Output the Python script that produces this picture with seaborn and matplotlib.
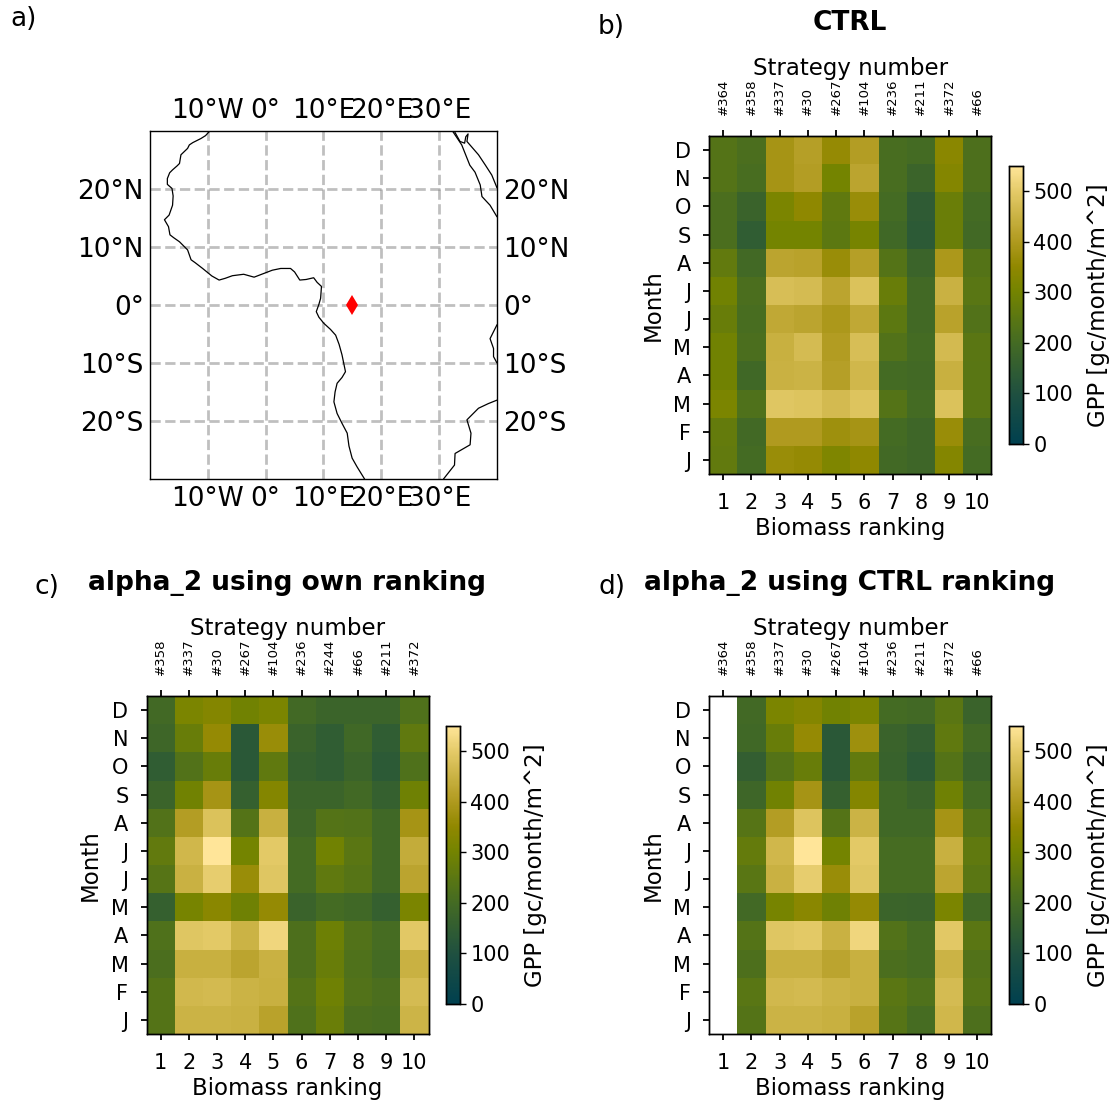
import numpy as np
import matplotlib
matplotlib.use("Agg")
import matplotlib.pyplot as plt
from matplotlib.colors import LinearSegmentedColormap
import seaborn as sns

sns.set_theme(style="white", rc={"axes.edgecolor": "black", "xtick.bottom": True, "ytick.left": True,
                                 "text.color": "black", "axes.labelcolor": "black",
                                 "xtick.color": "black", "ytick.color": "black"})
plt.rcParams['font.family'] = ['DejaVu Sans']

months = ['D', 'N', 'O', 'S', 'A', 'J', 'J', 'M', 'A', 'M', 'F', 'J']
ranks = [str(i) for i in range(1, 11)]

ctrl_strategies = ['#364', '#358', '#337', '#30', '#267', '#104', '#236', '#211', '#372', '#66']
own_strategies = ['#358', '#337', '#30', '#267', '#104', '#236', '#244', '#66', '#211', '#372']

ctrl_gpp = [
    [235, 215, 385, 412, 358, 408, 210, 200, 340, 220],
    [235, 210, 385, 408, 302, 422, 210, 178, 330, 220],
    [215, 172, 315, 350, 258, 365, 200, 142, 281, 200],
    [215, 148, 302, 302, 253, 308, 190, 136, 281, 195],
    [263, 195, 422, 418, 365, 412, 235, 178, 395, 235],
    [296, 215, 475, 470, 422, 482, 275, 195, 448, 245],
    [275, 210, 430, 422, 395, 430, 253, 195, 418, 230],
    [296, 215, 445, 470, 405, 475, 230, 200, 467, 248],
    [296, 190, 448, 452, 412, 460, 200, 195, 445, 245],
    [315, 225, 490, 486, 467, 486, 235, 200, 482, 245],
    [268, 195, 400, 400, 372, 385, 200, 184, 365, 210],
    [263, 200, 365, 358, 322, 350, 195, 184, 330, 200],
]
own_gpp = [
    [195, 315, 330, 296, 315, 195, 178, 178, 178, 225],
    [184, 275, 358, 130, 365, 172, 148, 190, 148, 258],
    [148, 230, 275, 130, 258, 160, 148, 178, 136, 225],
    [178, 296, 385, 160, 330, 178, 178, 195, 160, 291],
    [230, 408, 482, 235, 445, 184, 235, 230, 190, 385],
    [263, 460, 548, 302, 498, 200, 296, 248, 190, 438],
    [240, 448, 505, 365, 490, 200, 258, 240, 190, 422],
    [160, 308, 340, 291, 358, 172, 200, 190, 160, 315],
    [225, 490, 498, 452, 522, 220, 286, 230, 205, 495],
    [215, 445, 445, 422, 448, 220, 275, 225, 200, 448],
    [235, 463, 467, 452, 445, 235, 291, 230, 215, 470],
    [235, 452, 452, 448, 418, 225, 281, 215, 210, 455],
]
alpha_ctrl_gpp = [
    [np.nan, 195, 315, 330, 296, 315, 200, 195, 248, 172],
    [np.nan, 190, 275, 358, 130, 372, 172, 154, 258, 195],
    [np.nan, 154, 235, 275, 130, 263, 168, 136, 235, 172],
    [np.nan, 184, 296, 385, 160, 330, 190, 172, 291, 200],
    [np.nan, 240, 408, 486, 235, 452, 190, 190, 385, 235],
    [np.nan, 268, 460, 548, 302, 498, 205, 205, 445, 258],
    [np.nan, 245, 448, 505, 365, 490, 205, 205, 425, 248],
    [np.nan, 195, 308, 340, 291, 358, 178, 172, 315, 195],
    [np.nan, 235, 490, 498, 448, 522, 230, 205, 495, 248],
    [np.nan, 220, 445, 445, 422, 445, 215, 205, 452, 230],
    [np.nan, 245, 463, 467, 452, 445, 248, 225, 470, 240],
    [np.nan, 235, 452, 452, 445, 418, 240, 205, 460, 220],
]

# coastlines, lon then lat
west_coast_lon = [-9.66, -10.4, -11.2, -12.6, -13.2, -13.5, -14.65, -14.9, -15.3, -16.1, -16.6, -17.0, -17.0, -16.2,
                  -16.0, -16.1, -16.7, -17.5, -16.8, -16.55, -15.9, -14.9, -13.5, -12.9, -12.2, -10.9, -9.3, -8.05,
                  -7.0, -5.75, -3.8, -2.0, 1.15, 2.6, 4.3, 5.0, 5.9, 7.0, 8.3, 8.9, 9.65, 9.5, 9.2, 8.75, 9.2,
                  10.05, 11.2, 12.1, 12.7, 13.2, 13.8, 13.2, 12.35, 12.0, 11.8, 12.35, 13.2, 14.1, 14.4, 14.95,
                  15.8, 17.1]
west_coast_lat = [30, 29.2, 28.7, 28.0, 27.6, 27.0, 25.9, 24.4, 24.0, 23.3, 22.8, 21.8, 20.8, 20.1,
                  18.8, 17.2, 15.5, 14.7, 13.5, 12.1, 11.6, 10.9, 9.5, 7.8, 7.3, 6.3, 5.0, 4.3,
                  4.6, 5.05, 5.3, 4.8, 6.0, 6.3, 6.3, 5.7, 4.3, 4.4, 4.7, 3.9, 3.2, 1.15, 0.1, -1.15, -2.1,
                  -3.15, -4.2, -5.2, -6.8, -8.6, -11.5, -12.5, -13.5, -15.0, -16.7, -18.7, -20.4, -22.1, -24.3, -26.4,
                  -27.9, -30]
red_sea_w_lon = [32.3, 33.9, 35.3, 36.2, 37.1, 37.4, 38.8, 40]
red_sea_w_lat = [30, 27.6, 24.1, 22.9, 20.7, 18.7, 17.2, 15.2]
sinai_lon = [32.6, 33.6, 34.4, 34.6, 35.0, 34.8, 36.8, 38, 39.1, 40]
sinai_lat = [30, 28.2, 27.9, 29.0, 29.5, 28.2, 25.9, 24.1, 22.4, 20.2]
east_coast_lon = [40, 38.8, 39.4, 39.4, 40]
east_coast_lat = [-3.4, -5.8, -7.5, -8.9, -10]
moz_coast_lon = [40, 38.5, 36.8, 34.8, 35.5, 35.35, 32.75, 32.65, 30.75]
moz_coast_lat = [-16.4, -17.0, -17.8, -19.8, -22.1, -24.1, -25.6, -27.6, -30]

site_lon = [15]
site_lat = [0]

map_lons = [-10, 0, 10, 20, 30]
map_lon_labels = ['10°W', '0°', '10°E', '20°E', '30°E']
map_lats = [20, 10, 0, -10, -20]
map_lat_labels = ['20°N', '10°N', '0°', '10°S', '20°S']

# close to Crameri bamako reversed
gpp_cmap = LinearSegmentedColormap.from_list("bamako_like", [
    (0.0, '#00404f'), (0.18, '#1f5040'), (0.36, '#436a24'), (0.55, '#748400'),
    (0.64, '#918800'), (0.73, '#b09a1f'), (0.91, '#e4ca68'), (1.0, '#ffe599')])

W, H = 1115, 1102


def px_axes(fig, x0, y0, x1, y1):
    return fig.add_axes([x0 / W, 1 - y1 / H, (x1 - x0) / W, (y1 - y0) / H])


def gpp_panel(fig, box, cbox, values, strategies):
    ax = px_axes(fig, *box)
    cax = px_axes(fig, *cbox)
    sns.heatmap(values, ax=ax, cbar_ax=cax, cmap=gpp_cmap, vmin=0, vmax=550,
                xticklabels=ranks, yticklabels=months,
                cbar_kws={'label': 'GPP [gc/month/m^2]'})
    ax.tick_params(axis='both', labelsize=15, length=4, width=1.3, color='black')
    ax.tick_params(axis='x', pad=9.5)
    ax.tick_params(axis='y', rotation=0, pad=9)
    for t in ax.get_yticklabels():
        t.set_va('center_baseline')
    ax.set_xlabel('Biomass ranking', fontsize=16.5, labelpad=3)
    ax.set_ylabel('Month', fontsize=16.5, labelpad=6)
    for s in ax.spines.values():
        s.set_visible(True)
        s.set_linewidth(1)
        s.set_color('black')

    top = ax.twiny()
    top.set_xlim(ax.get_xlim())
    top.set_xticks(np.arange(len(strategies)) + 0.5)
    top.set_xticklabels(strategies, rotation=90, fontsize=9.5)
    top.tick_params(axis='x', length=4, width=1.3, color='black', pad=11, top=True)
    top.set_xlabel('Strategy number', fontsize=16.5, labelpad=2.5)
    top.grid(False)
    for s in top.spines.values():
        s.set_visible(True)
        s.set_linewidth(1)
        s.set_color('black')

    cax.tick_params(labelsize=15, length=4, width=1, right=True, color='black')
    cax.yaxis.label.set_size(16.5)
    cax.yaxis.labelpad = 10
    cax.set_yticks([0, 100, 200, 300, 400, 500])
    for s in cax.spines.values():
        s.set_visible(True)
        s.set_linewidth(1)
        s.set_color('black')
    return ax


fig = plt.figure(figsize=(W / 100, H / 100), dpi=100)

# map panel
ax_map = px_axes(fig, 150, 131, 497, 479)
ax_map.set_xlim(-20, 40)
ax_map.set_ylim(-30, 30)
ax_map.set_xticks(map_lons)
ax_map.set_xticklabels(map_lon_labels)
ax_map.set_yticks(map_lats)
ax_map.set_yticklabels(map_lat_labels)
ax_map.tick_params(length=0, labelsize=19, labeltop=True, labelright=True, pad=5)
ax_map.tick_params(axis='y', pad=4.5)
ax_map.grid(True, color='gray', alpha=0.5, linestyle='--', linewidth=2)
for lon, lat in [(west_coast_lon, west_coast_lat), (red_sea_w_lon, red_sea_w_lat), (sinai_lon, sinai_lat),
                 (east_coast_lon, east_coast_lat), (moz_coast_lon, moz_coast_lat)]:
    ax_map.plot(lon, lat, color='black', linewidth=0.9)
ax_map.plot(site_lon, site_lat, linestyle='none', marker='d', color='red', markersize=10, markeredgewidth=0, zorder=5)
for s in ax_map.spines.values():
    s.set_visible(True)
    s.set_linewidth(1)
    s.set_color('black')

gpp_panel(fig, (709, 136, 991.5, 474), (1009, 166, 1023, 444), ctrl_gpp, ctrl_strategies)
gpp_panel(fig, (146.5, 696, 428.5, 1034), (446, 726, 460, 1004), own_gpp, own_strategies)
gpp_panel(fig, (709, 696, 991.5, 1034), (1009, 726, 1023, 1004), alpha_ctrl_gpp, ctrl_strategies)

fig.text(850 / W, 1 - 23 / H, 'CTRL', fontsize=19, fontweight='bold', ha='center', va='center')
fig.text(287 / W, 1 - 583 / H, 'alpha_2 using own ranking', fontsize=19, fontweight='bold', ha='center', va='center')
fig.text(850 / W, 1 - 583 / H, 'alpha_2 using CTRL ranking', fontsize=19, fontweight='bold', ha='center', va='center')

fig.text(10 / W, 1 - 19 / H, 'a)', fontsize=19, ha='left', va='center')
fig.text(598 / W, 1 - 27 / H, 'b)', fontsize=19, ha='left', va='center')
fig.text(35 / W, 1 - 587 / H, 'c)', fontsize=19, ha='left', va='center')
fig.text(598 / W, 1 - 587 / H, 'd)', fontsize=19, ha='left', va='center')

fig.savefig('out.png', dpi=100)
